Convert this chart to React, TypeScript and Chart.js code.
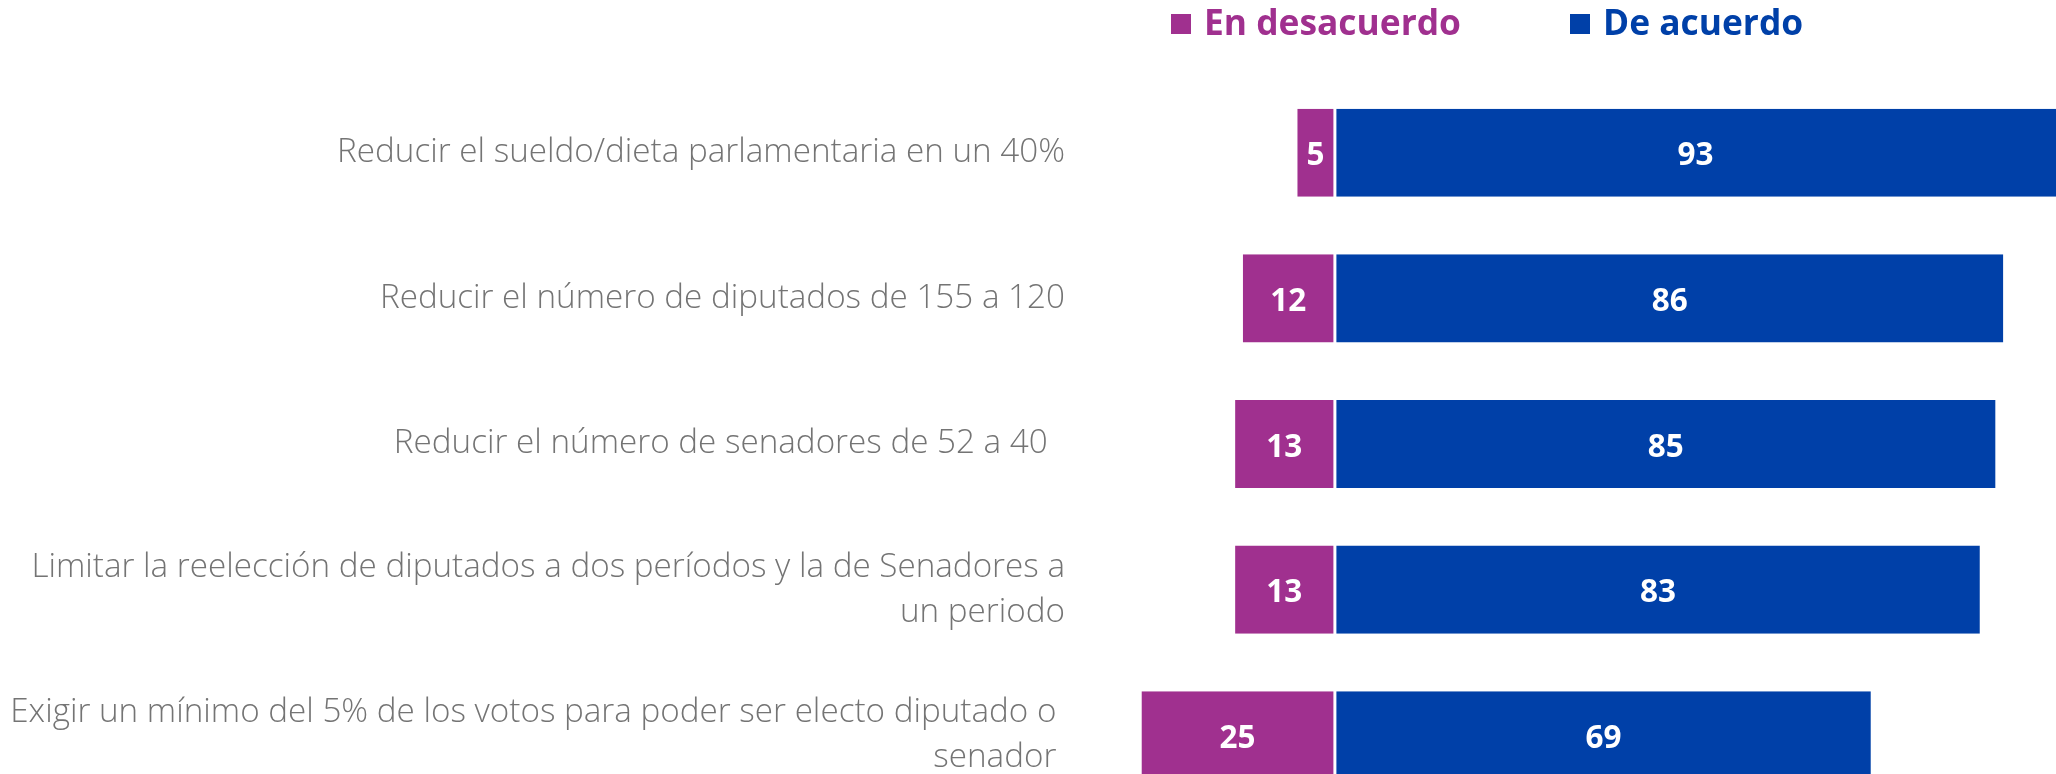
import React, { useEffect, useRef } from "react";
import { Chart, registerables } from "chart.js";

Chart.register(...registerables);

// ---------- data ----------
const categories: (string | string[])[] = [
  "Reducir el sueldo/dieta parlamentaria en un 40%",
  "Reducir el número de diputados de 155 a 120",
  "Reducir el número de senadores de 52 a 40  ",
  ["Limitar la reelección de diputados a dos períodos y la de Senadores a", "un periodo"],
  ["Exigir un mínimo del 5% de los votos para poder ser electo diputado o ", "senador "],
];
const seriesNames = ["En desacuerdo", "De acuerdo"];
const desacuerdo = [5, 12, 13, 13, 25];
const deAcuerdo = [93, 86, 85, 83, 69];
const seriesColors = ["#A0308F", "#0040A8"];

// ---------- style ----------
const FAMILY = '"Open Sans", "Noto Sans", sans-serif';
const W = 2056;
const H = 808;

function fitSize(text: string, weight: number, target: number): number {
  const c = document.createElement("canvas");
  const ctx = c.getContext("2d")!;
  ctx.font = `${weight} 100px ${FAMILY}`;
  const w = ctx.measureText(text).width;
  return (100 * target) / w;
}

export default function App() {
  const ref = useRef<HTMLCanvasElement | null>(null);

  useEffect(() => {
    if (!ref.current) return;
    const labelSize = fitSize(categories[0] as string, 300, 728);
    const legendSize = fitSize(seriesNames[0], 700, 257);
    const valueSize = fitSize("93", 700, 36);
    const legendX = [1171, 1570];

    const legendPlugin = {
      id: "customLegend",
      afterDraw(chart: any) {
        const ctx = chart.ctx as CanvasRenderingContext2D;
        ctx.save();
        chart.data.datasets.forEach((ds: any, i: number) => {
          const x = legendX[i];
          ctx.fillStyle = ds.backgroundColor;
          ctx.fillRect(x, 14, 20, 20);
          ctx.font = `700 ${legendSize}px ${FAMILY}`;
          ctx.textAlign = "left";
          ctx.textBaseline = "alphabetic";
          ctx.fillText(ds.label, x + 33, 35);
        });
        ctx.restore();
      },
    };

    const valuePlugin = {
      id: "valueLabels",
      afterDatasetsDraw(chart: any) {
        const ctx = chart.ctx as CanvasRenderingContext2D;
        ctx.save();
        ctx.font = `700 ${valueSize}px ${FAMILY}`;
        ctx.fillStyle = "#FFFFFF";
        ctx.textAlign = "center";
        ctx.textBaseline = "alphabetic";
        chart.data.datasets.forEach((ds: any, di: number) => {
          const meta = chart.getDatasetMeta(di);
          meta.data.forEach((bar: any, i: number) => {
            const v = Math.abs(ds.data[i]);
            const txt = String(v);
            const m = ctx.measureText(txt);
            const right = Math.min(Math.max(bar.x, bar.base), chart.chartArea.right);
            const left = Math.min(bar.x, bar.base);
            const cx = (left + right) / 2;
            const cy = bar.y + m.actualBoundingBoxAscent / 2 + 1;
            ctx.fillText(txt, cx, cy);
          });
        });
        ctx.restore();
      },
    };

    const chart = new Chart(ref.current, {
      type: "bar",
      data: {
        labels: categories,
        datasets: [
          {
            label: seriesNames[0],
            data: desacuerdo.map((v) => -v),
            backgroundColor: seriesColors[0],
            borderColor: "#FFFFFF",
            borderWidth: { left: 1.5, right: 1.5, top: 0, bottom: 0 },
            borderSkipped: false,
            barPercentage: 0.605,
            categoryPercentage: 1,
          },
          {
            label: seriesNames[1],
            data: deAcuerdo,
            backgroundColor: seriesColors[1],
            borderColor: "#FFFFFF",
            borderWidth: { left: 1.5, right: 1.5, top: 0, bottom: 0 },
            borderSkipped: false,
            barPercentage: 0.605,
            categoryPercentage: 1,
          },
        ],
      },
      options: {
        indexAxis: "y",
        responsive: false,
        animation: false,
        devicePixelRatio: 1,
        layout: { padding: { top: 80, left: 0, right: 0, bottom: 0 } },
        plugins: {
          legend: { display: false },
          tooltip: { enabled: false },
        },
        scales: {
          x: {
            type: "linear",
            stacked: true,
            min: -24.9,
            max: 92.6,
            display: false,
          },
          y: {
            type: "category",
            stacked: true,
            grid: { display: false, drawTicks: false },
            border: { display: false },
            ticks: {
              autoSkip: false,
              color: "#747474",
              padding: 76,
              font: { family: FAMILY, size: labelSize, weight: 300 as any, lineHeight: "45px" as any },
            },
            afterFit: (s: any) => {
              s.width = 1141;
              s.paddingTop = 0;
              s.paddingBottom = 0;
            },
          },
        },
      } as any,
      plugins: [legendPlugin, valuePlugin],
    });
    return () => chart.destroy();
  }, []);

  return (
    <div
      style={{
        position: "fixed",
        left: 0,
        top: 0,
        width: W,
        height: 774,
        overflow: "hidden",
        background: "#FFFFFF",
      }}
    >
      <canvas ref={ref} width={W} height={H} style={{ width: W, height: H, display: "block" }} />
    </div>
  );
}
